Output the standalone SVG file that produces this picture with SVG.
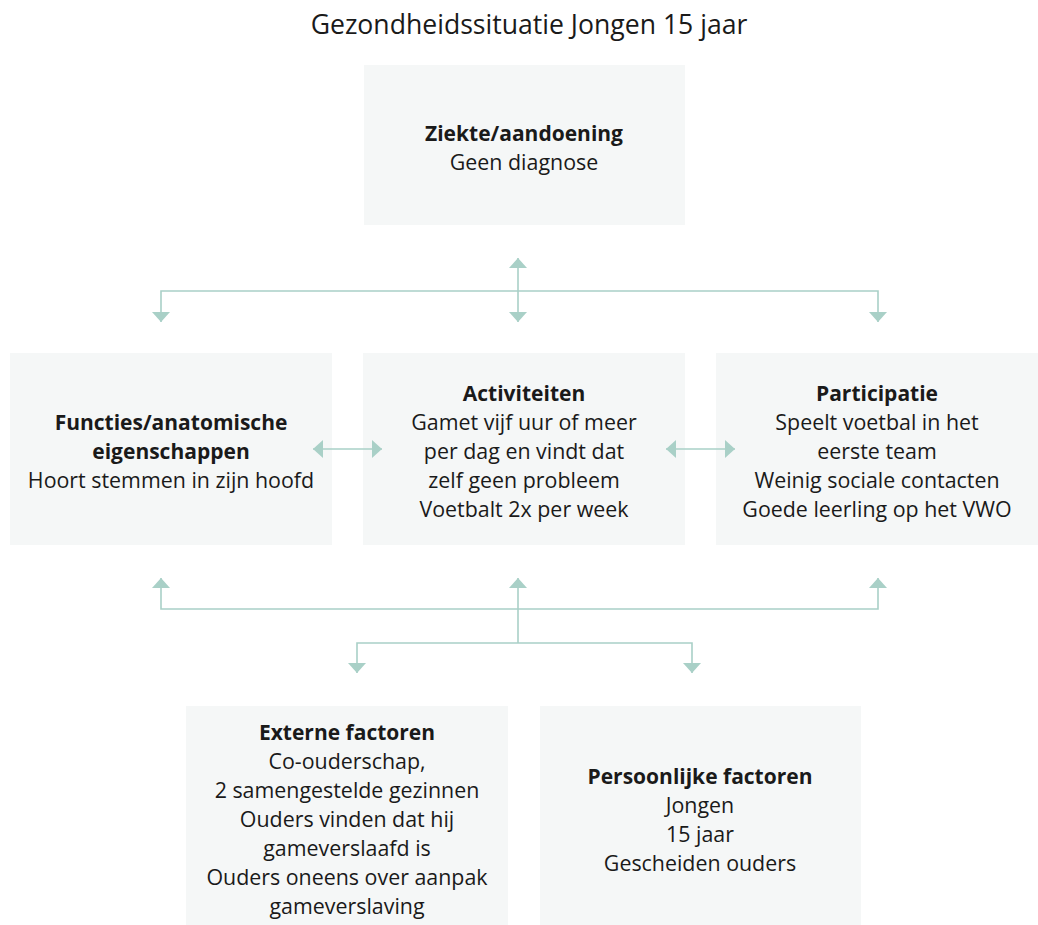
<svg xmlns="http://www.w3.org/2000/svg" width="1038" height="925" viewBox="0 0 1038 925">
  <style>
    .box { fill: #f5f7f7; }
    text { font-family: "Open Sans", "Noto Sans", sans-serif; font-size: 21.4px; fill: #1a1a1a; text-anchor: middle; }
    .b { font-weight: bold; font-size: 21px; }
    .title { font-size: 26.6px; }
    .link { fill: none; stroke: #a9d0c7; stroke-width: 1.6; marker-start: url(#head); marker-end: url(#head); }
    .start { fill: none; stroke: #a9d0c7; stroke-width: 1.6; marker-start: url(#head); }
    .end { fill: none; stroke: #a9d0c7; stroke-width: 1.6; marker-end: url(#head); }
  </style>
  <defs>
    <marker id="head" markerUnits="userSpaceOnUse" markerWidth="11" markerHeight="18" refX="10" refY="9" orient="auto-start-reverse">
      <path d="M0,0 L10,9 L0,18 z" fill="#a9d0c7"/>
    </marker>
  </defs>

  <rect width="1038" height="925" fill="#ffffff"/>

  <text class="title" x="529" y="34">Gezondheidssituatie Jongen 15 jaar</text>

  <g id="ziekte">
    <rect class="box" x="364" y="65" width="321" height="160"/>
    <text class="b" x="524" y="141">Ziekte/aandoening</text>
    <text x="524" y="170">Geen diagnose</text>
  </g>

  <g id="functies">
    <rect class="box" x="10" y="353" width="322" height="192"/>
    <text class="b" x="171" y="430">Functies/anatomische</text>
    <text class="b" x="171" y="459">eigenschappen</text>
    <text x="171" y="488">Hoort stemmen in zijn hoofd</text>
  </g>

  <g id="activiteiten">
    <rect class="box" x="363" y="353" width="322" height="192"/>
    <text class="b" x="524" y="401">Activiteiten</text>
    <text x="524" y="430">Gamet vijf uur of meer</text>
    <text x="524" y="459">per dag en vindt dat</text>
    <text x="524" y="488">zelf geen probleem</text>
    <text x="524" y="517">Voetbalt 2x per week</text>
  </g>

  <g id="participatie">
    <rect class="box" x="716" y="353" width="322" height="192"/>
    <text class="b" x="877" y="401">Participatie</text>
    <text x="877" y="430">Speelt voetbal in het</text>
    <text x="877" y="459">eerste team</text>
    <text x="877" y="488">Weinig sociale contacten</text>
    <text x="877" y="517">Goede leerling op het VWO</text>
  </g>

  <g id="externe">
    <rect class="box" x="186" y="706" width="322" height="219"/>
    <text class="b" x="347" y="740">Externe factoren</text>
    <text x="347" y="769">Co-ouderschap,</text>
    <text x="347" y="798">2 samengestelde gezinnen</text>
    <text x="347" y="827">Ouders vinden dat hij</text>
    <text x="347" y="856">gameverslaafd is</text>
    <text x="347" y="885">Ouders oneens over aanpak</text>
    <text x="347" y="914">gameverslaving</text>
  </g>

  <g id="persoonlijke">
    <rect class="box" x="540" y="706" width="321" height="219"/>
    <text class="b" x="700" y="784">Persoonlijke factoren</text>
    <text x="700" y="813">Jongen</text>
    <text x="700" y="842">15 jaar</text>
    <text x="700" y="871">Gescheiden ouders</text>
  </g>

  <g id="connectors">
    <!-- disease to the three middle boxes -->
    <path class="link" d="M518,258 V322"/>
    <path class="end" d="M518,291 H161 V322"/>
    <path class="end" d="M518,291 H878 V322"/>
    <!-- between middle boxes -->
    <path class="link" d="M313,449 H382"/>
    <path class="link" d="M666,449 H735"/>
    <!-- middle boxes to context factors -->
    <path class="link" d="M161,578 V609 H878 V578"/>
    <path class="start" d="M518,578 V643"/>
    <path class="link" d="M357,673 V643 H692 V673"/>
  </g>
</svg>
